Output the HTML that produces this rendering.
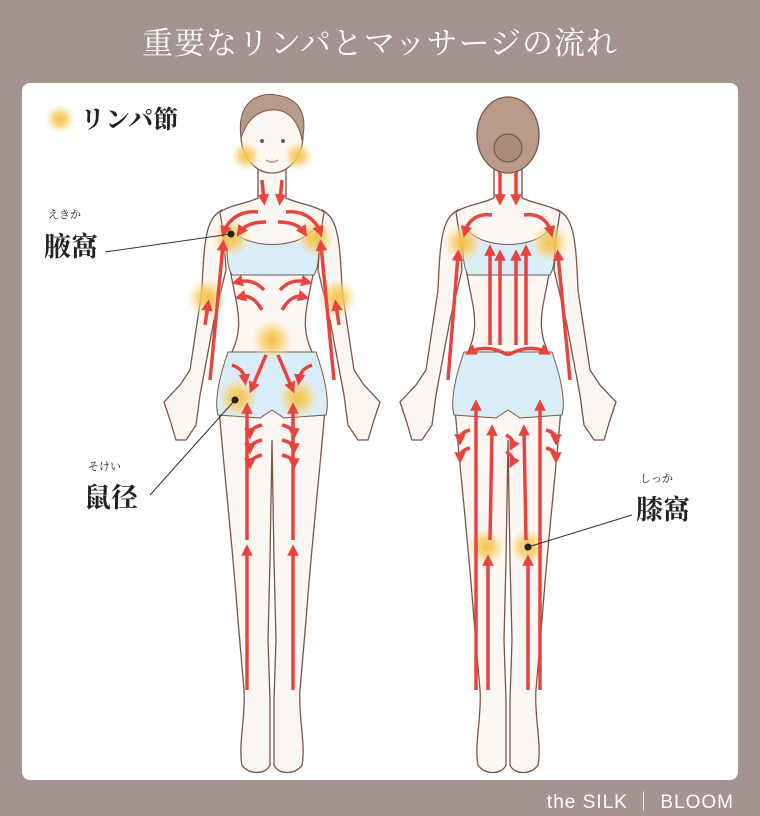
<!DOCTYPE html>
<html><head><meta charset="utf-8">
<style>
html,body{margin:0;padding:0;}
body{width:760px;height:816px;background:#a39391;position:relative;overflow:hidden;font-family:"Liberation Serif","Noto Serif CJK SC",serif;}
.title{position:absolute;top:18px;left:0;width:760px;text-align:center;color:#fff;font-size:31px;letter-spacing:1px;}
.panel{position:absolute;left:22px;top:83px;width:716px;height:697px;background:#fff;border-radius:8px;}
.foot{position:absolute;right:26px;top:787px;color:#fff;font-family:"Liberation Sans",sans-serif;font-size:19px;letter-spacing:1px;}
svg{position:absolute;left:0;top:0;}
</style></head><body>
<div class="title">重要なリンパとマッサージの流れ</div>
<div class="panel"></div>
<div class="foot">the SILK ｜ BLOOM</div>
<svg width="760" height="816" viewBox="0 0 760 816">
<defs>
<radialGradient id="g"><stop offset="0" stop-color="#f5c24a" stop-opacity="1"/><stop offset="0.45" stop-color="#f7cd68" stop-opacity="0.8"/><stop offset="1" stop-color="#fbe3a8" stop-opacity="0"/></radialGradient>
<marker id="a" viewBox="0 0 10 10" refX="5" refY="5" markerWidth="3.3" markerHeight="3.3" orient="auto"><path d="M0,0L10,5L0,10z" fill="#e8443f"/></marker>
<g id="body">
 <path d="M222,210 C206,218 204,240 202,290 L190,370 L180,385 L164,402 L170,420 L176,440 L186,440 L196,425 L200,395 L214,320 L226,270 Z" fill="#fdf7f3" stroke="#7a5548" stroke-width="1.3"/>
 <path d="M322,210 C338,218 340,240 342,290 L354,370 L364,385 L380,402 L374,420 L368,440 L358,440 L348,425 L344,395 L330,320 L318,270 Z" fill="#fdf7f3" stroke="#7a5548" stroke-width="1.3"/>
 <path d="M258,168 L258,198 C245,204 230,205 220,212 C224,240 230,270 236,300 C240,320 240,335 232,352 C222,370 216,392 220,420 C224,470 232,540 238,620 L244,690 C246,715 238,745 242,765 C248,775 266,775 270,765 L270,700 L268,640 L270,560 L272,440 L274,560 L276,640 L274,700 L274,765 C278,775 296,775 302,765 C306,745 298,715 300,690 L306,620 C312,540 320,470 324,420 C328,392 322,370 312,352 C304,335 304,320 308,300 C314,270 320,240 324,212 C314,205 299,204 286,198 L286,168 Z" fill="#fdf7f3" stroke="#7a5548" stroke-width="1.3"/>
 <path d="M230,228 C245,250 300,250 314,228 C320,245 320,265 314,275 L232,275 C226,265 226,245 230,228 Z" fill="#d9edf9" stroke="#7a5548" stroke-width="1"/>
 <path d="M228,352 L316,352 C324,375 330,400 326,415 L284,418 L272,410 L260,418 L218,415 C214,400 220,375 228,352 Z" fill="#d9edf9" stroke="#7a5548" stroke-width="1"/>
</g>
</defs>

<use href="#body"/>
<ellipse cx="272" cy="135" rx="31" ry="38" fill="#fdf7f3" stroke="#7a5548" stroke-width="1.3"/>
<path d="M241,138 C236,100 260,92 276,95 C300,98 308,115 302,140 C298,118 285,108 270,110 C255,112 246,122 241,138 Z" fill="#b79a87" stroke="#7a5548" stroke-width="1"/>
<circle cx="262" cy="141" r="2" fill="#7a5548"/><circle cx="283" cy="141" r="2" fill="#7a5548"/>
<path d="M266,160 Q272,164 278,160" stroke="#d08080" fill="none" stroke-width="1.5"/>

<use href="#body" transform="translate(236,0)"/>
<ellipse cx="508" cy="135" rx="31" ry="38" fill="#b79a87" stroke="#7a5548" stroke-width="1.3"/>
<circle cx="508" cy="148" r="14" fill="#a8897a" stroke="#7a5548" stroke-width="1"/>

<g fill="url(#g)">
<circle cx="60" cy="119" r="15"/>
<circle cx="246" cy="156" r="15"/><circle cx="298" cy="156" r="15"/>
<circle cx="231" cy="238" r="20"/><circle cx="315" cy="238" r="20"/>
<circle cx="207" cy="298" r="20"/><circle cx="337" cy="298" r="20"/>
<circle cx="272" cy="340" r="21"/>
<circle cx="238" cy="398" r="21"/><circle cx="298" cy="398" r="21"/>
<circle cx="463" cy="243" r="20"/><circle cx="550" cy="243" r="20"/>
<circle cx="486" cy="547" r="19"/><circle cx="528" cy="547" r="19"/>
</g>

<g stroke="#e8443f" stroke-width="3.5" fill="none" marker-end="url(#a)">
<path d="M262,180 L264,200"/><path d="M282,180 L280,200"/>
<path d="M258,212 C240,210 228,220 224,232"/><path d="M286,212 C304,210 316,220 320,232"/>
<path d="M266,222 C252,222 244,226 240,232"/><path d="M278,222 C292,222 300,226 304,232"/>
<path d="M210,380 L223,245"/><path d="M334,380 L321,245"/>
<path d="M205,325 L208,305"/><path d="M339,325 L336,305"/>
<path d="M264,290 C255,280 245,280 237,282"/><path d="M280,290 C289,280 299,280 307,282"/>
<path d="M262,310 C255,298 248,295 240,297"/><path d="M282,310 C289,298 296,295 304,297"/>
<path d="M266,355 L252,388"/><path d="M278,355 L292,388"/>
<path d="M232,365 C240,368 244,372 245,380"/><path d="M312,365 C304,368 300,372 299,380"/>
<path d="M247,690 L247,550"/><path d="M247,540 L247,408"/>
<path d="M293,690 L293,550"/><path d="M293,540 L293,408"/>
<path d="M262,425 C254,427 250,430 250,434"/><path d="M262,440 C254,442 250,445 250,449"/><path d="M262,455 C254,457 250,460 250,464"/>
<path d="M282,425 C290,427 294,430 294,434"/><path d="M282,440 C290,442 294,445 294,449"/><path d="M282,455 C290,457 294,460 294,464"/>
<path d="M500,172 L500,200"/><path d="M516,172 L516,200"/>
<path d="M492,215 C478,213 468,220 465,232"/><path d="M524,215 C538,213 548,220 551,232"/>
<path d="M448,380 L458,255"/><path d="M570,380 L558,255"/>
<path d="M490,345 L490,250"/><path d="M500,345 L500,255"/><path d="M516,345 L516,255"/><path d="M526,345 L526,250"/>
<path d="M508,355 C490,345 478,348 470,352"/><path d="M508,355 C526,345 538,348 546,352"/>
<path d="M476,690 L476,405"/><path d="M540,690 L540,405"/>
<path d="M488,690 L488,560"/><path d="M528,690 L528,560"/>
<path d="M490,540 L492,430"/><path d="M526,540 L524,430"/>
<path d="M470,430 C462,432 460,436 460,440"/><path d="M470,448 C462,450 460,454 460,458"/>
<path d="M546,430 C554,432 556,436 556,440"/><path d="M546,448 C554,450 556,454 556,458"/>
<path d="M506,435 C512,438 514,442 512,446"/><path d="M506,452 C512,455 514,459 512,463"/>
</g>

<g stroke="#333" stroke-width="1" fill="none">
<path d="M105,252 L231,234"/><path d="M150,495 L235,400"/><path d="M632,515 L528,547"/>
</g>
<g fill="#222"><circle cx="231" cy="234" r="3.5"/><circle cx="235" cy="400" r="3.5"/><circle cx="528" cy="547" r="3.5"/></g>

<g font-family="Liberation Serif, Noto Serif CJK SC, serif" fill="#222" font-weight="bold">
<text x="80" y="128" font-size="25">リンパ節</text>
<text x="48" y="218" font-size="11" font-weight="normal">えきか</text>
<text x="44" y="256" font-size="27">腋窩</text>
<text x="88" y="470" font-size="11" font-weight="normal">そけい</text>
<text x="84" y="507" font-size="27">鼠径</text>
<text x="640" y="482" font-size="11" font-weight="normal">しっか</text>
<text x="636" y="519" font-size="27">膝窩</text>
</g>
</svg>
</body></html>
